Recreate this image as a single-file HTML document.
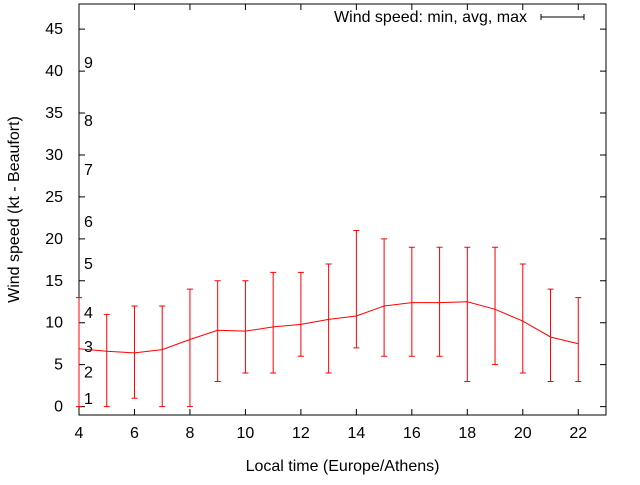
<!DOCTYPE html><html><head><meta charset="utf-8"><style>body{margin:0;background:#fff}svg{font-family:"Liberation Sans",sans-serif}</style></head><body>
<svg id="c" width="640" height="480" xmlns="http://www.w3.org/2000/svg"></svg>
<script>
const hours=[4,5,6,7,8,9,10,11,12,13,14,15,16,17,18,19,20,21,22];
const avgVals=[6.9,6.6,6.4,6.8,8,9.1,9,9.5,9.8,10.4,10.8,12,12.4,12.4,12.5,11.6,10.2,8.3,7.5];
const minVals=[0,0,1,0,0,3,4,4,6,4,7,6,6,6,3,5,4,3,3];
const maxVals=[13,11,12,12,14,15,15,16,16,17,21,20,19,19,19,19,17,14,13];
const xTicks=[4,6,8,10,12,14,16,18,20,22];
const yTicks=[0,5,10,15,20,25,30,35,40,45];
const beaufortLabels=["1","2","3","4","5","6","7","8","9"];
const beaufortPos=[1,4.2,7.2,11.3,17.1,22.1,28.3,34.2,41.1];
const L=79,R=606,T=4,B=415,xMin=4,xMax=23,yMin=-1,yMax=48;
const X=v=>L+(v-xMin)/(xMax-xMin)*(R-L);
const Y=v=>B-(v-yMin)/(yMax-yMin)*(B-T);
const s=document.getElementById('c');const NS="http://www.w3.org/2000/svg";
function el(t,a,p){const e=document.createElementNS(NS,t);for(const k in a)e.setAttribute(k,a[k]);(p||s).appendChild(e);return e;}
function txt(x,y,str,anchor,extra){const e=el('text',Object.assign({x:x,y:y,'font-size':16,'text-anchor':anchor||'middle',fill:'#000'},extra||{}));e.textContent=str;return e;}
const frame=el('rect',{x:L,y:T,width:R-L,height:B-T,fill:'none',stroke:'#000','stroke-width':1});


yTicks.forEach(v=>{const y=Y(v);
const ln=el('path',{d:`M${L} ${y}h6M${R} ${y}h-6`,stroke:'#000'});


const t=txt(L-16,y+5,String(v),'end');

});
xTicks.forEach(v=>{const x=X(v);
const ln=el('path',{d:`M${x} ${B}v-6M${x} ${T}v6`,stroke:'#000'});


const t=txt(x,B+23,String(v));

});
beaufortLabels.forEach((b,i)=>{const t=txt(84,Y(beaufortPos[i])+6,b,'start');

});
const xt=txt((L+R)/2,471,'Local time (Europe/Athens)');


const yt=txt(0,0,'Wind speed (kt - Beaufort)','middle',{transform:`translate(19,${(T+B)/2}) rotate(-90)`});


hours.forEach((h,i)=>{const x=X(h);
const e=el('path',{d:`M${x} ${Y(minVals[i])}V${Y(maxVals[i])}M${x-3} ${Y(minVals[i])}h6M${x-3} ${Y(maxVals[i])}h6`,stroke:'#f00',fill:'none'});

});
const line=el('polyline',{points:hours.map((h,i)=>X(h)+','+Y(avgVals[i])).join(' '),fill:'none',stroke:'#f00'});


const lg=txt(527,22,'Wind speed: min, avg, max','end');


const ls=el('path',{d:'M541 17h43M541 14v6M584 14v6',stroke:'#000'});


</script></body></html>
